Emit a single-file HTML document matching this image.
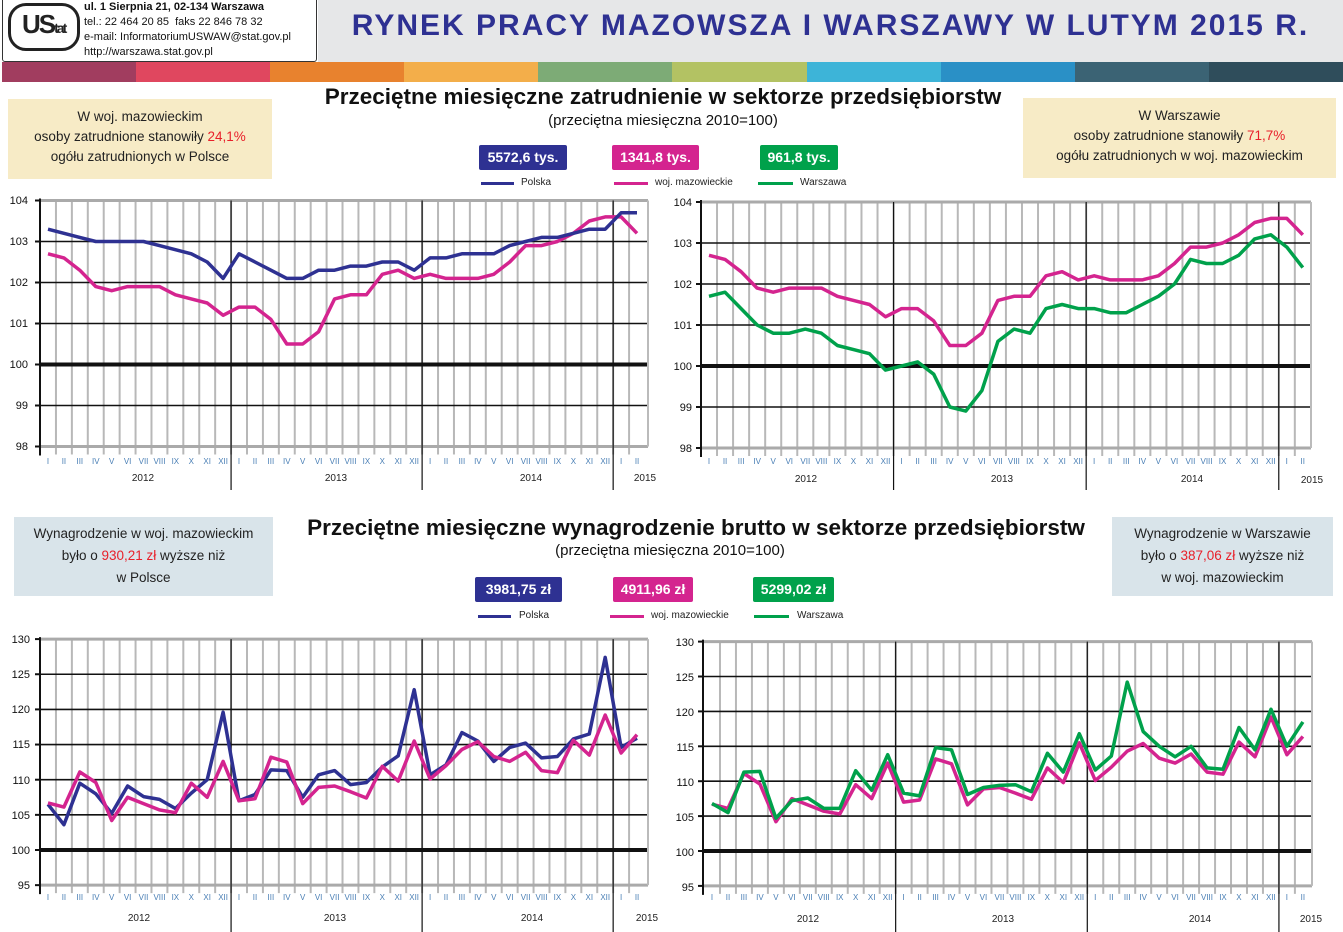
<!DOCTYPE html>
<html><head><meta charset="utf-8">
<style>
body{margin:0;background:#fff;width:1343px;height:932px;overflow:hidden;position:relative;font-family:"Liberation Sans",sans-serif;}
.abs{position:absolute}
.box{position:absolute;text-align:center;font-size:13.5px;color:#222;line-height:20px}
.red{color:#e8202a}
.badge{position:absolute;color:#fff;font-weight:bold;font-size:14px;text-align:center;border-radius:2px;line-height:25px;height:25px}
.leg{position:absolute;font-size:10px;color:#222}
.ln{position:absolute;height:3px}
.title{position:absolute;font-weight:bold;font-size:22.5px;color:#111;white-space:nowrap;text-align:center}
.sub{position:absolute;font-size:15px;color:#111;text-align:center;white-space:nowrap}
svg text{font-family:"Liberation Sans",sans-serif}
.m text{font-size:8px;fill:#4a7fb5;text-anchor:middle}
.y text{font-size:10px;fill:#222;text-anchor:middle}
.v text{font-size:11px;fill:#111;text-anchor:end}
</style></head><body>
<div class="abs" style="left:318px;top:0;width:1025px;height:62px;background:#e6e7e8"></div>
<div class="abs" style="left:2px;top:-1px;width:313px;height:61px;border:1px solid #333;background:#fff;border-radius:0 0 3px 3px"></div>
<div class="abs" style="left:8px;top:3px;width:66px;height:42px;border:3px solid #222;border-radius:18px;background:#fff"></div>
<div class="abs" style="left:22px;top:9px;font-weight:bold;font-size:26px;color:#222;letter-spacing:-2px">US<span style="font-size:14px">tat</span></div>
<div class="abs" style="left:84px;top:0px;font-size:11px;line-height:15px;color:#111">
<b>ul. 1 Sierpnia 21, 02-134 Warszawa</b><br>tel.: 22 464 20 85&nbsp; faks 22 846 78 32<br>e-mail: InformatoriumUSWAW@stat.gov.pl<br>http://warszawa.stat.gov.pl</div>
<div class="abs" style="left:318px;top:9px;width:1025px;text-align:center;font-weight:bold;font-size:30px;color:#2e3192;letter-spacing:2px">RYNEK PRACY MAZOWSZA I WARSZAWY W LUTYM 2015 R.</div>
<div class="abs" style="left:2px;top:62px;width:1341px;height:20px;display:flex">
<div style="flex:1;background:#a13d5f"></div><div style="flex:1;background:#e0475f"></div><div style="flex:1;background:#e8822e"></div><div style="flex:1;background:#f3ae4a"></div><div style="flex:1;background:#7dab76"></div><div style="flex:1;background:#b3c263"></div><div style="flex:1;background:#3db4d8"></div><div style="flex:1;background:#2a90c6"></div><div style="flex:1;background:#3b6374"></div><div style="flex:1;background:#2f4d5b"></div></div>

<div class="box" style="left:8px;top:99px;width:264px;height:80px;background:#f7ebc6;padding-top:8px;box-sizing:border-box">W woj. mazowieckim<br>osoby zatrudnione stanowiły <span class="red">24,1%</span><br>ogółu zatrudnionych w Polsce</div>
<div class="box" style="left:1023px;top:98px;width:313px;height:80px;background:#f7ebc6;padding-top:8px;box-sizing:border-box">W Warszawie<br>osoby zatrudnione stanowiły <span class="red">71,7%</span><br>ogółu zatrudnionych w woj. mazowieckim</div>
<div class="box" style="left:14px;top:517px;width:259px;height:79px;background:#d9e4ea;padding-top:6px;box-sizing:border-box;line-height:22px">Wynagrodzenie w woj. mazowieckim<br>było o <span class="red">930,21 zł</span> wyższe niż<br>w Polsce</div>
<div class="box" style="left:1112px;top:517px;width:221px;height:79px;background:#d9e4ea;padding-top:6px;box-sizing:border-box;line-height:22px">Wynagrodzenie w Warszawie<br>było o <span class="red">387,06 zł</span> wyższe niż<br>w woj. mazowieckim</div>

<div class="title" style="left:213px;width:900px;top:84px">Przeciętne miesięczne zatrudnienie w sektorze przedsiębiorstw</div>
<div class="sub" style="left:463px;width:400px;top:112px">(przeciętna miesięczna 2010=100)</div>
<div class="badge" style="left:479px;top:145px;width:88px;background:#2e3192">5572,6 tys.</div>
<div class="badge" style="left:612px;top:145px;width:87px;background:#d4248f">1341,8 tys.</div>
<div class="badge" style="left:760px;top:145px;width:78px;background:#00a14b">961,8 tys.</div>
<div class="ln" style="left:481px;top:182px;width:33px;background:#2e3192"></div><div class="leg" style="left:521px;top:177px">Polska</div>
<div class="ln" style="left:614px;top:182px;width:34px;background:#d4248f"></div><div class="leg" style="left:655px;top:177px">woj. mazowieckie</div>
<div class="ln" style="left:758px;top:182px;width:35px;background:#00a14b"></div><div class="leg" style="left:800px;top:177px">Warszawa</div>

<div class="title" style="left:246px;width:900px;top:515px">Przeciętne miesięczne wynagrodzenie brutto w sektorze przedsiębiorstw</div>
<div class="sub" style="left:470px;width:400px;top:542px">(przeciętna miesięczna 2010=100)</div>
<div class="badge" style="left:475px;top:577px;width:87px;background:#2e3192">3981,75 zł</div>
<div class="badge" style="left:613px;top:577px;width:80px;background:#d4248f">4911,96 zł</div>
<div class="badge" style="left:753px;top:577px;width:81px;background:#00a14b">5299,02 zł</div>
<div class="ln" style="left:478px;top:615px;width:33px;background:#2e3192"></div><div class="leg" style="left:519px;top:610px">Polska</div>
<div class="ln" style="left:610px;top:615px;width:34px;background:#d4248f"></div><div class="leg" style="left:651px;top:610px">woj. mazowieckie</div>
<div class="ln" style="left:754px;top:615px;width:35px;background:#00a14b"></div><div class="leg" style="left:797px;top:610px">Warszawa</div>

<svg id="s" class="abs" style="left:0;top:0" width="1343" height="932">
<g class="v">
<text x="28" y="204">104</text><text x="28" y="245">103</text><text x="28" y="286">102</text><text x="28" y="327">101</text><text x="28" y="368">100</text><text x="28" y="409">99</text><text x="28" y="450">98</text>
<text x="692" y="206">104</text><text x="692" y="247">103</text><text x="692" y="288">102</text><text x="692" y="329">101</text><text x="692" y="370">100</text><text x="692" y="411">99</text><text x="692" y="452">98</text>
<text x="30" y="643">130</text><text x="30" y="678">125</text><text x="30" y="713">120</text><text x="30" y="748">115</text><text x="30" y="784">110</text><text x="30" y="819">105</text><text x="30" y="854">100</text><text x="30" y="889">95</text>
<text x="694" y="646">130</text><text x="694" y="681">125</text><text x="694" y="716">120</text><text x="694" y="751">115</text><text x="694" y="786">110</text><text x="694" y="821">105</text><text x="694" y="856">100</text><text x="694" y="891">95</text>
</g>
<g id="grid"></g>
<g class="y">
<text x="143" y="481">2012</text><text x="336" y="481">2013</text><text x="531" y="481">2014</text><text x="645" y="481">2015</text>
<text x="806" y="482">2012</text><text x="1002" y="482">2013</text><text x="1192" y="482">2014</text><text x="1312" y="483">2015</text>
<text x="139" y="921">2012</text><text x="335" y="921">2013</text><text x="532" y="921">2014</text><text x="647" y="921">2015</text>
<text x="808" y="922">2012</text><text x="1003" y="922">2013</text><text x="1200" y="922">2014</text><text x="1311" y="922">2015</text>
</g>
<g class="m" transform="translate(48,464) scale(0.995,1)"><text x="0">I</text><text x="16">II</text><text x="32">III</text><text x="48">IV</text><text x="64">V</text><text x="80">VI</text><text x="96">VII</text><text x="112">VIII</text><text x="128">IX</text><text x="144">X</text><text x="160">XI</text><text x="176">XII</text><text x="192">I</text><text x="208">II</text><text x="224">III</text><text x="240">IV</text><text x="256">V</text><text x="272">VI</text><text x="288">VII</text><text x="304">VIII</text><text x="320">IX</text><text x="336">X</text><text x="352">XI</text><text x="368">XII</text><text x="384">I</text><text x="400">II</text><text x="416">III</text><text x="432">IV</text><text x="448">V</text><text x="464">VI</text><text x="480">VII</text><text x="496">VIII</text><text x="512">IX</text><text x="528">X</text><text x="544">XI</text><text x="560">XII</text><text x="576">I</text><text x="592">II</text></g>
<g class="m" transform="translate(709,464) scale(1.003,1)"><text x="0">I</text><text x="16">II</text><text x="32">III</text><text x="48">IV</text><text x="64">V</text><text x="80">VI</text><text x="96">VII</text><text x="112">VIII</text><text x="128">IX</text><text x="144">X</text><text x="160">XI</text><text x="176">XII</text><text x="192">I</text><text x="208">II</text><text x="224">III</text><text x="240">IV</text><text x="256">V</text><text x="272">VI</text><text x="288">VII</text><text x="304">VIII</text><text x="320">IX</text><text x="336">X</text><text x="352">XI</text><text x="368">XII</text><text x="384">I</text><text x="400">II</text><text x="416">III</text><text x="432">IV</text><text x="448">V</text><text x="464">VI</text><text x="480">VII</text><text x="496">VIII</text><text x="512">IX</text><text x="528">X</text><text x="544">XI</text><text x="560">XII</text><text x="576">I</text><text x="592">II</text></g>
<g class="m" transform="translate(48,900) scale(0.995,1)"><text x="0">I</text><text x="16">II</text><text x="32">III</text><text x="48">IV</text><text x="64">V</text><text x="80">VI</text><text x="96">VII</text><text x="112">VIII</text><text x="128">IX</text><text x="144">X</text><text x="160">XI</text><text x="176">XII</text><text x="192">I</text><text x="208">II</text><text x="224">III</text><text x="240">IV</text><text x="256">V</text><text x="272">VI</text><text x="288">VII</text><text x="304">VIII</text><text x="320">IX</text><text x="336">X</text><text x="352">XI</text><text x="368">XII</text><text x="384">I</text><text x="400">II</text><text x="416">III</text><text x="432">IV</text><text x="448">V</text><text x="464">VI</text><text x="480">VII</text><text x="496">VIII</text><text x="512">IX</text><text x="528">X</text><text x="544">XI</text><text x="560">XII</text><text x="576">I</text><text x="592">II</text></g>
<g class="m" transform="translate(712,900) scale(0.998,1)"><text x="0">I</text><text x="16">II</text><text x="32">III</text><text x="48">IV</text><text x="64">V</text><text x="80">VI</text><text x="96">VII</text><text x="112">VIII</text><text x="128">IX</text><text x="144">X</text><text x="160">XI</text><text x="176">XII</text><text x="192">I</text><text x="208">II</text><text x="224">III</text><text x="240">IV</text><text x="256">V</text><text x="272">VI</text><text x="288">VII</text><text x="304">VIII</text><text x="320">IX</text><text x="336">X</text><text x="352">XI</text><text x="368">XII</text><text x="384">I</text><text x="400">II</text><text x="416">III</text><text x="432">IV</text><text x="448">V</text><text x="464">VI</text><text x="480">VII</text><text x="496">VIII</text><text x="512">IX</text><text x="528">X</text><text x="544">XI</text><text x="560">XII</text><text x="576">I</text><text x="592">II</text></g>
<g id="lines"></g>
</svg>
<script>
var NS="http://www.w3.org/2000/svg";
function el(p,t,a){var e=document.createElementNS(NS,t);for(var k in a)e.setAttribute(k,a[k]);p.appendChild(e);return e;}
var G=document.getElementById("grid"),L=document.getElementById("lines");
var E_P=[103.3,103.2,103.1,103.0,103.0,103.0,103.0,102.9,102.8,102.7,102.5,102.1,102.7,102.5,102.3,102.1,102.1,102.3,102.3,102.4,102.4,102.5,102.5,102.3,102.6,102.6,102.7,102.7,102.7,102.9,103.0,103.1,103.1,103.2,103.3,103.3,103.7,103.7];
var E_M=[102.7,102.6,102.3,101.9,101.8,101.9,101.9,101.9,101.7,101.6,101.5,101.2,101.4,101.4,101.1,100.5,100.5,100.8,101.6,101.7,101.7,102.2,102.3,102.1,102.2,102.1,102.1,102.1,102.2,102.5,102.9,102.9,103.0,103.2,103.5,103.6,103.6,103.2];
var E_W=[101.7,101.8,101.4,101.0,100.8,100.8,100.9,100.8,100.5,100.4,100.3,99.9,100.0,100.1,99.8,99.0,98.9,99.4,100.6,100.9,100.8,101.4,101.5,101.4,101.4,101.3,101.3,101.5,101.7,102.0,102.6,102.5,102.5,102.7,103.1,103.2,102.9,102.4];
var W_P=[106.5,103.6,109.5,108.0,105.2,109.1,107.6,107.2,105.9,108.1,110.0,119.6,107.0,107.9,111.4,111.3,107.5,110.7,111.3,109.3,109.6,111.8,113.4,122.8,110.7,112.1,116.7,115.5,112.6,114.6,115.2,113.1,113.3,115.8,116.5,127.4,114.6,115.9];
var W_M=[106.7,106.1,111.1,109.6,104.2,107.5,106.6,105.7,105.3,109.5,107.5,112.6,107.0,107.3,113.2,112.5,106.6,108.9,109.1,108.3,107.4,111.9,109.8,115.5,110.1,112.0,114.3,115.4,113.3,112.6,113.9,111.3,111.0,115.6,113.5,119.2,113.8,116.4];
var W_W=[106.8,105.5,111.3,111.4,104.7,107.2,107.6,106.1,106.1,111.5,108.7,113.8,108.3,107.9,114.8,114.5,108.1,109.1,109.4,109.5,108.5,114.0,111.3,116.8,111.6,113.6,124.2,117.1,115.0,113.5,115.0,111.9,111.7,117.7,114.5,120.3,115.0,118.5];
var B="#2e3192",M="#d4248f",Gr="#00a14b";
function chart(c){
  var x=function(i){return c.x0+i*c.dx;}, y=function(v){return c.y100-(v-100)*c.k;};
  var top=y(c.max),bot=y(c.min);
  for(var i=0;i<37;i++){var xx=x(i)+c.dx/2; el(G,"line",{x1:xx,x2:xx,y1:top,y2:bot+8,stroke:"#b8b8b8","stroke-width":2});}
  var xr=c.xr;
  for(var v=c.min;v<=c.max;v+=c.step){var yy=y(v);var edge=(v==c.min||v==c.max);
    el(G,"line",{x1:c.ax,x2:xr,y1:yy,y2:yy,stroke:v==100?"#111":(edge?"#aaa":"#111"),"stroke-width":v==100?4:(edge?3:1.6)});
    el(G,"line",{x1:c.ax-5,x2:c.ax,y1:yy,y2:yy,stroke:"#111","stroke-width":2});}
  el(G,"line",{x1:xr,x2:xr,y1:top,y2:bot,stroke:"#bbb","stroke-width":2});
  el(G,"line",{x1:c.ax,x2:c.ax,y1:top-2,y2:bot+9,stroke:"#111","stroke-width":2});
  [11,23,35].forEach(function(i){var xx=x(i)+c.dx/2;el(G,"line",{x1:xx,x2:xx,y1:top,y2:c.yb,stroke:"#111","stroke-width":1.2});});
  c.s.forEach(function(s){el(L,"polyline",{points:s[0].map(function(v,i){return x(i).toFixed(1)+","+y(v).toFixed(1);}).join(" "),fill:"none",stroke:s[1],"stroke-width":3.5,"stroke-linejoin":"round"});});
}
chart({x0:48,dx:15.92,y100:364.5,k:41,min:98,max:104,step:1,ax:40,xr:648,yb:490,s:[[E_M,M],[E_P,B]]});
chart({x0:709,dx:16.05,y100:366,k:41,min:98,max:104,step:1,ax:701,xr:1311,yb:490,s:[[E_W,Gr],[E_M,M]]});
chart({x0:48,dx:15.92,y100:850,k:7.03,min:95,max:130,step:5,ax:40,xr:648,yb:932,s:[[W_P,B],[W_M,M]]});
chart({x0:712,dx:15.97,y100:851,k:6.98,min:95,max:130,step:5,ax:703,xr:1312,yb:932,s:[[W_M,M],[W_W,Gr]]});
</script>
</body></html>
